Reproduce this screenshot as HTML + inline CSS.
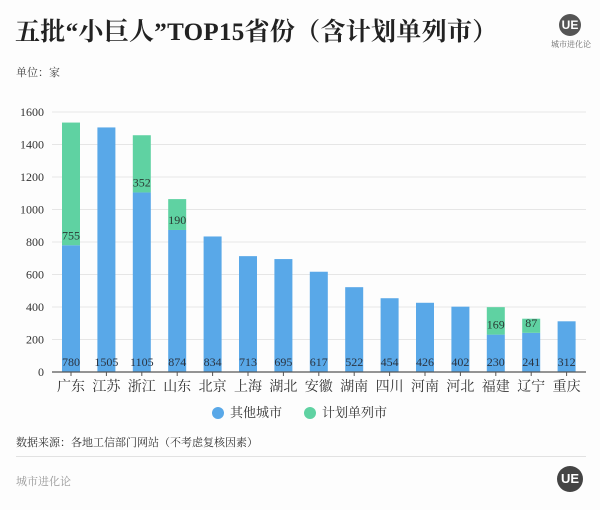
<!DOCTYPE html>
<html><head><meta charset="utf-8">
<style>
body{margin:0;background:#fff;}
#wrap{position:relative;width:600px;height:510px;background:#fdfdfd;overflow:hidden;font-family:"Liberation Serif","Noto Serif CJK SC",serif;}
.t{position:absolute;white-space:nowrap;}
</style></head>
<body>
<div id="wrap">
<div class="t" style="left:15px;top:12px;font-size:25px;font-weight:bold;color:#222;letter-spacing:0.3px;">五批“小巨人”TOP15省份（含计划单列市）</div>
<div class="t" style="left:559px;top:14px;width:22px;height:22px;border-radius:50%;background:#555;color:#fff;font:bold 12px 'Liberation Sans',sans-serif;text-align:center;line-height:22px;">UE</div>
<div class="t" style="left:551px;top:39px;font-size:8px;color:#666;">城市进化论</div>
<div class="t" style="left:16px;top:64px;font-size:11px;color:#444;">单位：家</div>
<svg id="chart" width="600" height="430" style="position:absolute;left:0;top:0"></svg>
<div class="t" style="left:212px;top:402px;font-size:13px;color:#333;"><span style="display:inline-block;width:12px;height:12px;border-radius:50%;background:#59a8e8;vertical-align:-2px;margin-right:6px"></span>其他城市</div>
<div class="t" style="left:304px;top:402px;font-size:13px;color:#333;"><span style="display:inline-block;width:12px;height:12px;border-radius:50%;background:#5fd2a2;vertical-align:-2px;margin-right:6px"></span>计划单列市</div>
<div class="t" style="left:16px;top:434px;font-size:11px;color:#333;">数据来源：各地工信部门网站（不考虑复核因素）</div>
<div style="position:absolute;left:16px;top:456px;width:570px;height:1px;background:#e2e2e2"></div>
<div class="t" style="left:16px;top:473px;font-size:11px;color:#999;">城市进化论</div>
<div class="t" style="left:557px;top:466px;width:26px;height:26px;border-radius:50%;background:#444;color:#fff;font:bold 13px 'Liberation Sans',sans-serif;text-align:center;line-height:26px;">UE</div>
</div>
<script>
const categories=["广东","江苏","浙江","山东","北京","上海","湖北","安徽","湖南","四川","河南","河北","福建","辽宁","重庆"];
const otherValues=[780,1505,1105,874,834,713,695,617,522,454,426,402,230,241,312];
const planValues=[755,0,352,190,0,0,0,0,0,0,0,0,169,87,0];
const yTicks=[0,200,400,600,800,1000,1200,1400,1600];
const NS="http://www.w3.org/2000/svg";
const svg=document.getElementById('chart');
const y0=372,yTop=112,yMax=1600,x0=71,step=35.4,bw=18;
function yScale(v){return y0-(v/yMax)*(y0-yTop);}
function xScale(i){return x0+i*step;}
function mk(tag,attrs,txt){const e=document.createElementNS(NS,tag);for(const k in attrs)e.setAttribute(k,attrs[k]);if(txt!==undefined)e.textContent=txt;svg.appendChild(e);return e;}
yTicks.forEach(v=>{
  const y=yScale(v);
  if(v>0){const g=mk('line',{x1:52,x2:586,y1:y,y2:y,stroke:'#e6e6e6','stroke-width':1});
  
  }
  const t=mk('text',{x:44,y:y+4,'text-anchor':'end','font-size':12,fill:'#333','font-family':'Liberation Serif, serif'},v);
  
  
});
categories.forEach((c,i)=>{
  const cx=xScale(i);
  const yo=yScale(otherValues[i]);
  const b=mk('rect',{x:cx-bw/2,y:yo,width:bw,height:y0-yo,fill:'#59a8e8'});
  
  
  if(planValues[i]>0){
    const yp=yScale(otherValues[i]+planValues[i]);
    const p=mk('rect',{x:cx-bw/2,y:yp,width:bw,height:yo-yp,fill:'#5fd2a2'});
    
    
    const pl=mk('text',{x:cx,y:yo-6,'text-anchor':'middle','font-size':12,fill:'#2a3a33','font-family':'Liberation Serif, serif'},planValues[i]);
    
    
  }
  const ol=mk('text',{x:cx,y:y0-6,'text-anchor':'middle','font-size':12,fill:'#2a3340','font-family':'Liberation Serif, serif'},otherValues[i]);
  
  
  const tk=mk('line',{x1:cx,x2:cx,y1:y0,y2:y0+4,stroke:'#555'});
  
  
  const cl=mk('text',{x:cx,y:y0+19,'text-anchor':'middle','font-size':14,fill:'#333','font-family':'Liberation Serif, Noto Serif CJK SC, serif'},c);
  
  
});
const ax=mk('line',{x1:52,x2:586,y1:y0,y2:y0,stroke:'#555','stroke-width':1.2});


</script>
</body></html>
